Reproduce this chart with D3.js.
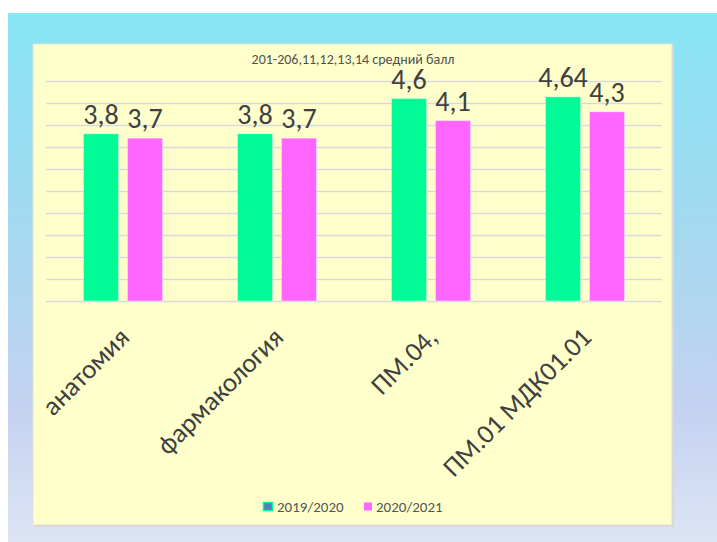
<!DOCTYPE html>
<html>
<head>
<meta charset="utf-8">
<script src="https://cdn.jsdelivr.net/npm/d3@7"></script>
<style>
  body { margin: 0; background: #fff; }
  svg { display: block; }
</style>
</head>
<body>
<script>
// data
var subjects = ["анатомия", "фармакология", "ПМ.04,", "ПМ.01 МДК01.01"];
var years = ["2019/2020", "2020/2021"];
var scores2019 = [3.8, 3.8, 4.6, 4.64];
var scores2020 = [3.7, 3.7, 4.1, 4.3];
var valueLabels2019 = ["3,8", "3,8", "4,6", "4,64"];
var valueLabels2020 = ["3,7", "3,7", "4,1", "4,3"];
var yTicks = d3.range(0, 5.01, 0.5);
var chartTitle = "201-206,11,12,13,14 средний балл";

var W = 717, H = 542;
var font = "Carlito, Calibri, 'DejaVu Sans Condensed', 'Liberation Sans Narrow', sans-serif";
var textColor = "#404040";
var colors = {"2019/2020": "#00fa96", "2020/2021": "#ff66ff"};

var svg = d3.select("body").append("svg")
    .attr("width", W)
    .attr("height", H);

var defs = svg.append("defs");
var grad = defs.append("linearGradient")
    .attr("id", "bg")
    .attr("x1", 0).attr("y1", 0).attr("x2", 0).attr("y2", 1);
grad.append("stop").attr("offset", "0%").attr("stop-color", "#87e5f4");
grad.append("stop").attr("offset", "45%").attr("stop-color", "#a8d8f0");
grad.append("stop").attr("offset", "75%").attr("stop-color", "#c4d2f0");
grad.append("stop").attr("offset", "100%").attr("stop-color", "#dde4f5");

// slide background
svg.append("rect")
    .attr("x", 8).attr("y", 13)
    .attr("width", W - 8).attr("height", H - 13)
    .attr("fill", "url(#bg)");

// chart panel
svg.append("rect")
    .attr("x", 34).attr("y", 45)
    .attr("width", 640).attr("height", 482)
    .attr("fill", "#d6d6d6");
svg.append("rect")
    .attr("x", 33).attr("y", 44)
    .attr("width", 639).attr("height", 481)
    .attr("fill", "#ffffcc")
    .attr("stroke", "#e2e2d8")
    .attr("stroke-width", 1);

var rows = subjects.map(function(s, i) {
  return {
    subject: s,
    values: [
      {year: years[0], v: scores2019[i], label: valueLabels2019[i]},
      {year: years[1], v: scores2020[i], label: valueLabels2020[i]}
    ]
  };
});

var x0 = d3.scaleBand()
    .domain(subjects)
    .range([46, 662])
    .paddingInner(0.487)
    .paddingOuter(0.2435);

var x1 = d3.scaleBand()
    .domain(years)
    .range([0, x0.bandwidth()])
    .paddingInner(0.2045);

var y = d3.scaleLinear()
    .domain([0, 5])
    .range([301, 81]);

// gridlines
svg.append("g")
    .attr("class", "grid")
    .attr("transform", "translate(46,0)")
    .call(d3.axisLeft(y).tickValues(yTicks).tickSize(-616).tickFormat(""))
    .call(function(g) { g.select(".domain").remove(); })
    .selectAll("line")
    .attr("stroke", "#d9d9d9")
    .attr("stroke-width", 1.3);

// title
svg.append("text")
    .attr("x", 353)
    .attr("y", 64)
    .attr("text-anchor", "middle")
    .style("font-family", font)
    .style("font-size", "14px")
    .style("fill", "#505050")
    .text(chartTitle);

var groups = svg.selectAll(".group")
    .data(rows)
    .enter().append("g")
    .attr("class", "group")
    .attr("transform", function(d) { return "translate(" + x0(d.subject) + ",0)"; });

groups.selectAll("rect")
    .data(function(d) { return d.values; })
    .enter().append("rect")
    .attr("x", function(d) { return x1(d.year); })
    .attr("y", function(d) { return y(d.v); })
    .attr("width", x1.bandwidth())
    .attr("height", function(d) { return y(0) - y(d.v); })
    .attr("fill", function(d) { return colors[d.year]; })
    .attr("stroke", "#ffffff")
    .attr("stroke-opacity", 0.35)
    .attr("stroke-width", 1);

groups.selectAll(".val")
    .data(function(d) { return d.values; })
    .enter().append("text")
    .attr("class", "val")
    .attr("x", function(d) { return x1(d.year) + x1.bandwidth() / 2; })
    .attr("y", function(d) { return y(d.v) - 10; })
    .attr("text-anchor", "middle")
    .style("font-family", font)
    .style("font-size", "28px")
    .style("fill", textColor)
    .text(function(d) { return d.label; });

// category labels, rotated
svg.selectAll(".cat")
    .data(subjects)
    .enter().append("text")
    .attr("class", "cat")
    .attr("text-anchor", "end")
    .attr("transform", function(d) {
      var cx = x0(d) + x0.bandwidth() / 2;
      return "translate(" + (cx + 8) + ",339) rotate(-45)";
    })
    .style("font-family", font)
    .style("font-size", "27px")
    .style("fill", textColor)
    .text(function(d) { return d; });

// legend
var legend = svg.append("g").attr("class", "legend");
var legendX = [263, 364];
years.forEach(function(yr, i) {
  var g = legend.append("g").attr("transform", "translate(" + legendX[i] + ",502)");
  g.append("rect")
    .attr("x", i === 0 ? 0.5 : 0)
    .attr("y", 0.5)
    .attr("width", i === 0 ? 9 : 8)
    .attr("height", 8)
    .attr("fill", i === 0 ? "#4f7fbf" : colors[yr])
    .attr("stroke", i === 0 ? colors[yr] : "none")
    .attr("stroke-width", 1.5);
  g.append("text")
    .attr("x", i === 0 ? 14 : 12)
    .attr("y", 9.5)
    .style("font-family", font)
    .style("font-size", "15px")
    .style("fill", "#555555")
    .text(yr);
});
</script>
</body>
</html>
